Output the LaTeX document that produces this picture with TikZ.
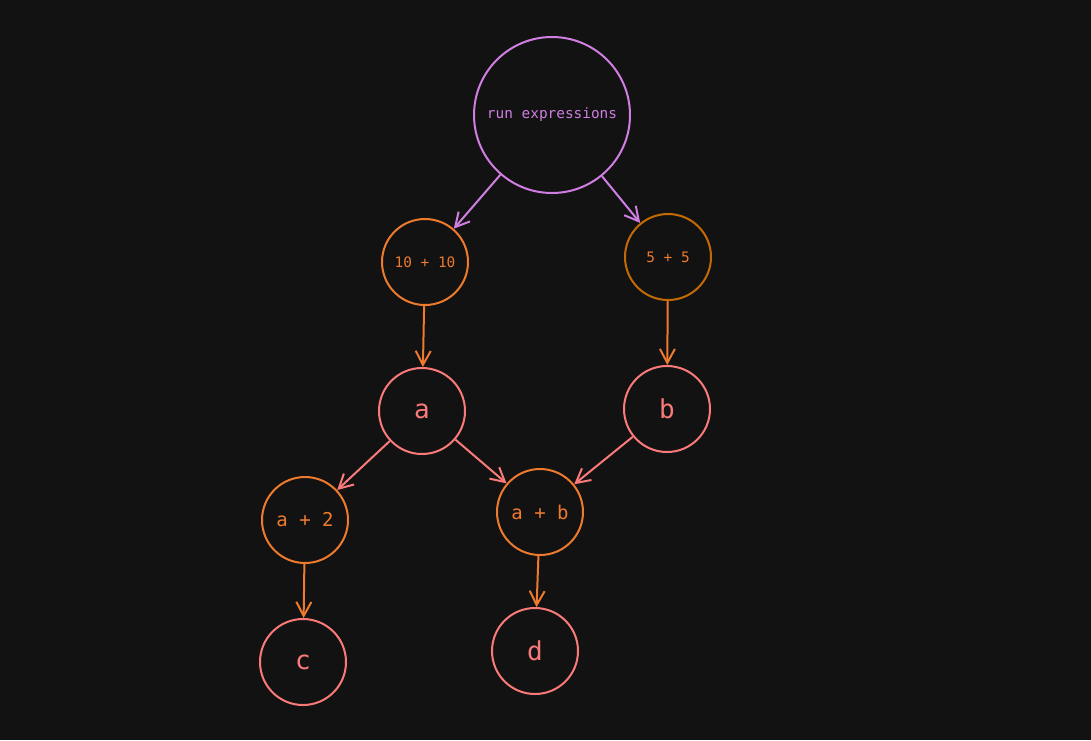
\documentclass[tikz,border=0pt]{standalone}
\usepackage{fontspec}
\setmonofont{DejaVu Sans Mono}
\usepackage{tikz}
\usetikzlibrary{arrows.meta,positioning}
\definecolor{bgdark}{HTML}{121212}
\definecolor{lilac}{HTML}{D07EE2}
\definecolor{exorange}{HTML}{EE7A2E}
\definecolor{darkorange}{HTML}{C46A05}
\definecolor{salmon}{HTML}{FA7A7A}

\begin{document}
\begin{tikzpicture}[x=0.5pt, y=-0.5pt, line width=1pt,
    every node/.style={circle, draw, minimum size=43pt, inner sep=0pt, font=\ttfamily\fontsize{7.2}{8}\selectfont},
    expr/.style={draw=exorange, text=exorange},
    var/.style={draw=salmon, text=salmon, font=\ttfamily\fontsize{13}{15}\selectfont},
    link/.style={-{Straight Barb[length=7pt, width=7.5pt]}}]
    \fill[bgdark] (0,0) rectangle (1091,740);
    \useasboundingbox (0,0) rectangle (1091,740);
    % nodes
    \node[draw=lilac, text=lilac, minimum size=78pt] (run) at (552,115) {run expressions};
    \node[expr] (ten) at (425,262) {10 + 10};
    \node[draw=darkorange, text=exorange] (five) at (668,257) {5 + 5};
    \node[var] (a) at (422,411) {a};
    \node[var] (b) at (667,409) {b};
    \node[expr, font=\ttfamily\fontsize{9.5}{11}\selectfont] (atwo) at (305,520) {a + 2};
    \node[expr, font=\ttfamily\fontsize{9.5}{11}\selectfont] (ab) at (540,512) {a + b};
    \node[var] (c) at (303,662) {c};
    \node[var] (d) at (535,651) {d};
    % edges
    \draw[link, lilac] (run) -- (ten);
    \draw[link, lilac] (run) -- (five);
    \draw[link, exorange] (ten) -- (a);
    \draw[link, exorange] (five) -- (b);
    \draw[link, salmon] (a) -- (atwo);
    \draw[link, salmon] (a) -- (ab);
    \draw[link, salmon] (b) -- (ab);
    \draw[link, exorange] (atwo) -- (c);
    \draw[link, exorange] (ab) -- (d);
\end{tikzpicture}
\end{document}
